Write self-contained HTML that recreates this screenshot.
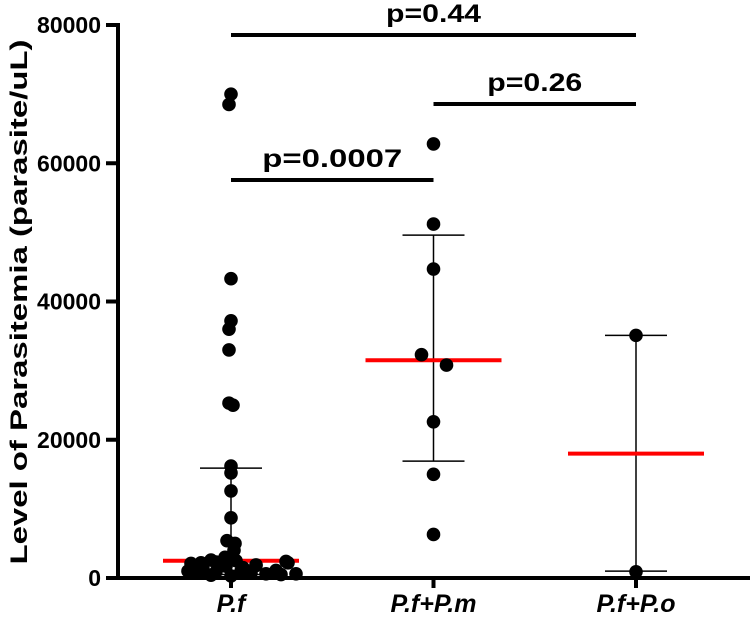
<!DOCTYPE html>
<html><head><meta charset="utf-8"><style>
body{margin:0;background:#fff;}
svg{display:block;font-family:"Liberation Sans",Arial,sans-serif;}
</style></head><body>
<svg id="c" width="750" height="622"></svg>
<script>
const categories=["P.f","P.f+P.m","P.f+P.o"];
const yTicks=[0,20000,40000,60000,80000];
const pfValues=[70000,68500,43300,37200,36000,33000,25300,25000,16200,15200,12600,8700,5400,5000,4000,3000,2600,2200,2300,2100,2000,1900,2400,2200,1800,1500,1300,1200,1000,900,800,700,600,500,400,300,1000,600,1700,2500,900,1100];
const pfJitter=[0,-2,0,0,-2,-2,-2,2,0,0,0,0,-4,4,3,-6,-20,-30,-15,-40,-10,25,55,57,25,12,-28,-35,-43,-38,-30,20,35,50,-20,0,10,65,-5,5,-15,45];
const pmValues=[62800,51200,44700,32300,30800,22600,15000,6300];
const pmJitter=[0,0,0,-12,13,0,0,0];
const poValues=[35100,900];
const poJitter=[0,0];
const medians=[2500,31500,18000];
const barTop=[15900,49600,35100];
const barBottom=[500,16900,1000];
const brackets=[{a:0,b:2,label:"p=0.44",y:35,w:95},{a:1,b:2,label:"p=0.26",y:104,w:95},{a:0,b:1,label:"p=0.0007",y:180,w:140}];

const svg=document.getElementById('c');
const NS="http://www.w3.org/2000/svg";
const y0=578,y1=25,x0=118;
const Y=v=>y0-(v/80000)*(y0-y1);
const X=i=>231+i*202.5;
function mk(t,a){const e=document.createElementNS(NS,t);for(const k in a)e.setAttribute(k,a[k]);svg.appendChild(e);return e;}

let e=mk('line',{x1:x0,y1:y1-2,x2:x0,y2:y0+2,stroke:'#000','stroke-width':4});


e=mk('line',{x1:x0-2,y1:y0,x2:750,y2:y0,stroke:'#000','stroke-width':4});


yTicks.forEach(v=>{
  let t=mk('line',{x1:x0-12,y1:Y(v),x2:x0,y2:Y(v),stroke:'#000','stroke-width':4});
  
  
  let l=mk('text',{x:x0-17,y:Y(v)+8,'text-anchor':'end','font-size':23,'font-weight':'bold'});
  l.textContent=v;
  
  
});
categories.forEach((c,i)=>{
  let t=mk('line',{x1:X(i),y1:y0,x2:X(i),y2:y0+10,stroke:'#000','stroke-width':4});
  
  
  let l=mk('text',{x:X(i),y:612,'text-anchor':'middle','font-size':25,'font-weight':'bold','font-style':'italic'});
  l.textContent=c;
  
  
});
let yt=mk('text',{x:0,y:0,transform:'translate(27,302) rotate(-90)','text-anchor':'middle','font-size':24,'font-weight':'bold',textLength:525,lengthAdjust:'spacingAndGlyphs'});
yt.textContent="Level of  Parasitemia (parasite/uL)";



categories.forEach((c,i)=>{
  let g=mk('line',{x1:X(i),y1:Y(barTop[i]),x2:X(i),y2:Y(barBottom[i]),stroke:'#000','stroke-width':1.5});
  
  
  [barTop[i],barBottom[i]].forEach(v=>{
    let h=mk('line',{x1:X(i)-31,y1:Y(v),x2:X(i)+31,y2:Y(v),stroke:'#000','stroke-width':1.5});
    
    
  });
});
medians.forEach((m,i)=>{
  let l=mk('line',{x1:X(i)-68,y1:Y(m),x2:X(i)+68,y2:Y(m),stroke:'#f00','stroke-width':4});
  
  
});
[[pfValues,pfJitter],[pmValues,pmJitter],[poValues,poJitter]].forEach(([vals,jit],i)=>{
  vals.forEach((v,k)=>{
    let p=mk('circle',{cx:X(i)+jit[k],cy:Y(v),r:6.8,fill:'#000'});
    
    
  });
});
brackets.forEach(b=>{
  let l=mk('line',{x1:X(b.a),y1:b.y,x2:X(b.b),y2:b.y,stroke:'#000','stroke-width':4});
  
  
  let t=mk('text',{x:(X(b.a)+X(b.b))/2,y:b.y-13,'text-anchor':'middle','font-size':25,'font-weight':'bold',textLength:b.w,lengthAdjust:'spacingAndGlyphs'});
  t.textContent=b.label;
  
  
});
</script>
</body></html>
